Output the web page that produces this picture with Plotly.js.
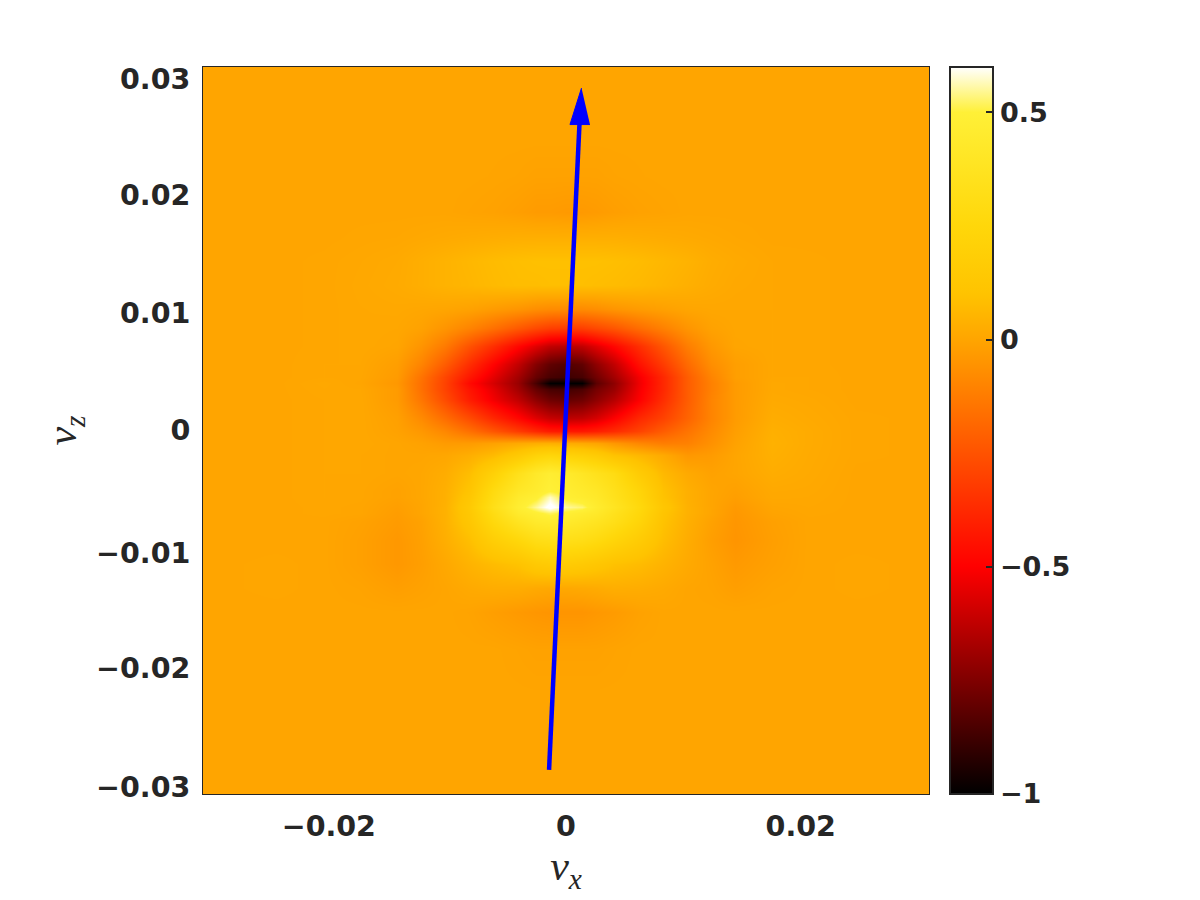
<!DOCTYPE html>
<html>
<head>
<meta charset="utf-8">
<script src="https://cdn.plot.ly/plotly-3.0.1.min.js"></script>
<style>html,body{margin:0;padding:0;background:#fff}#chart{width:1200px;height:900px}</style>
</head>
<body>
<div id="chart"></div>
<script>
const vx = [-0.03,-0.024,-0.02,-0.017,-0.014,-0.012,-0.01,-0.008,-0.006,-0.004,-0.0025,-0.0013,0,0.0013,0.0025,0.004,0.006,0.008,0.01,0.012,0.014,0.017,0.02,0.024,0.03];
const vz = [0.03,0.024,0.021,0.018,0.016,0.014,0.012,0.01,0.0085,0.007,0.0055,0.0044,0.0039,0.0034,0.0025,0.001,0,-0.001,-0.002,-0.0035,-0.005,-0.0055,-0.0063,-0.0068,-0.0075,-0.009,-0.011,-0.013,-0.015,-0.018,-0.022,-0.03];
const density = [
[0,0,0,0,0,0,0,0,0,0,0,0,0,0,0,0,0,0,0,0,0,0,0,0,0],
[0,0,0,0,0,0,0,0,0,0,0,0,0,0,0,0,0,0,0,0,0,0,0,0,0],
[0,0,0,0,0,0,0,0,-.002,-.005,-.01,-.01,-.01,-.01,-.01,-.005,-.002,0,0,0,0,0,0,0,0],
[0,0,0,0,0,0,0,-.005,-.01,-.02,-.03,-.03,-.035,-.035,-.03,-.02,-.01,-.005,0,0,0,0,0,0,0],
[0,0,0,.003,.005,.01,.015,.02,.025,.03,.03,.03,.03,.03,.03,.03,.025,.02,.015,.01,.005,0,0,0,0],
[0,0,.003,.008,.015,.03,.045,.06,.075,.085,.09,.09,.09,.09,.09,.085,.075,.06,.045,.025,.015,.005,.003,0,0],
[0,0,.003,.01,.018,.03,.045,.055,.07,.08,.08,.085,.085,.085,.08,.075,.065,.05,.035,.02,.01,.005,.003,0,0],
[0,0,.003,.008,.01,.005,0,-.01,-.03,-.05,-.07,-.08,-.08,-.08,-.07,-.05,-.03,-.015,0,.005,.005,.005,.003,0,0],
[0,0,.003,.008,.005,-.01,-.05,-.1,-.16,-.23,-.28,-.31,-.32,-.31,-.28,-.24,-.17,-.11,-.05,-.01,.003,.005,.003,0,0],
[0,0,.003,.008,0,-.05,-.13,-.25,-.36,-.48,-.56,-.62,-.64,-.62,-.56,-.48,-.36,-.24,-.12,-.04,0,.005,.003,0,0],
[0,0,.005,.005,-.02,-.1,-.22,-.36,-.49,-.62,-.74,-.81,-.84,-.81,-.72,-.62,-.45,-.32,-.18,-.07,-.02,.005,.003,0,0],
[0,0,.005,.003,-.03,-.15,-.29,-.43,-.55,-.68,-.8,-.86,-.88,-.86,-.78,-.68,-.52,-.38,-.22,-.1,-.02,.005,.005,0,0],
[0,0,.01,0,-.04,-.16,-.3,-.47,-.58,-.7,-.86,-1,-1,-1,-.82,-.72,-.53,-.38,-.22,-.11,-.03,.01,.005,0,0],
[0,0,.008,.005,-.03,-.16,-.3,-.44,-.55,-.68,-.8,-.86,-.87,-.85,-.77,-.7,-.52,-.38,-.22,-.11,-.03,.01,.005,0,0],
[0,0,.005,.008,-.03,-.14,-.27,-.41,-.52,-.62,-.72,-.78,-.8,-.78,-.72,-.64,-.5,-.36,-.22,-.1,-.03,.015,.01,0,0],
[0,0,.005,.008,-.015,-.08,-.17,-.27,-.38,-.48,-.56,-.61,-.63,-.62,-.58,-.5,-.38,-.3,-.2,-.1,-.03,.025,.015,.003,0],
[0,0,.005,.008,-.01,-.04,-.09,-.16,-.24,-.32,-.38,-.42,-.43,-.43,-.41,-.37,-.3,-.22,-.15,-.08,-.02,.035,.02,.003,0],
[0,0,.005,.008,0,-.01,-.03,-.03,-.01,.015,.03,.035,.025,.015,0,-.04,-.09,-.12,-.11,-.06,-.01,.04,.02,.003,0],
[0,0,.005,.005,0,0,.005,.03,.07,.145,.215,.24,.215,.19,.16,.1,.06,.015,-.04,-.03,0,.035,.018,.003,0],
[0,0,.005,.005,0,.005,.025,.08,.2,.34,.425,.47,.44,.395,.35,.295,.16,.065,.015,-.01,0,.025,.015,0,0],
[0,0,.005,.003,-.01,.005,.035,.11,.28,.41,.455,.5,.47,.44,.41,.34,.23,.095,.035,0,-.015,.012,.01,0,0],
[0,0,.005,.003,-.01,.005,.035,.125,.295,.44,.485,.57,.485,.455,.425,.35,.24,.1,.035,0,-.02,.01,.008,0,0],
[0,0,.003,0,-.02,0,.04,.145,.325,.47,.55,.62,.55,.53,.455,.38,.265,.125,.04,0,-.035,0,.005,0,0],
[0,0,.003,0,-.025,0,.04,.135,.295,.44,.485,.52,.485,.455,.425,.35,.25,.11,.04,0,-.04,-.005,.003,0,0],
[0,0,0,-.01,-.03,-.01,.04,.125,.265,.38,.44,.455,.44,.41,.38,.325,.23,.1,.035,-.01,-.045,-.015,0,0,0],
[0,0,0,-.015,-.04,-.015,.03,.085,.18,.25,.31,.325,.325,.31,.28,.23,.16,.08,.025,-.02,-.05,-.02,0,0,0],
[0,.003,0,-.015,-.04,-.02,.01,.045,.075,.1,.145,.16,.16,.145,.125,.095,.075,.045,.015,-.01,-.035,-.015,0,.003,0],
[0,.003,0,-.005,-.02,-.01,0,.015,.025,.025,.015,.01,.01,.015,.02,.03,.025,.015,0,-.005,-.02,-.005,0,.003,0],
[0,0,0,0,0,0,0,-.005,-.02,-.035,-.045,-.05,-.05,-.05,-.04,-.03,-.01,0,0,0,0,0,0,0,0],
[0,0,0,0,0,0,0,0,0,-.005,-.01,-.01,-.01,-.01,-.01,-.005,0,0,0,0,0,0,0,0,0],
[0,0,0,0,0,0,0,0,0,0,0,0,0,0,0,0,0,0,0,0,0,0,0,0,0],
[0,0,0,0,0,0,0,0,0,0,0,0,0,0,0,0,0,0,0,0,0,0,0,0,0]
];
const shaftX = [-0.0014, 0.00112];
const shaftY = [-0.028, 0.02545];
const headX = [0.00128, 0.00033, 0.00198];
const headY = [0.02826, 0.02525, 0.02525];
const xTickPos = [-0.0196, 0, 0.0194];
const xTickText = ['\u22120.02', '0', '0.02'];
const yTickPos = [-0.0294, -0.0196, -0.0101, 0, 0.0097, 0.01944, 0.029];
const yTickText = ['\u22120.03', '\u22120.02', '\u22120.01', '0', '0.01', '0.02', '0.03'];
const barTicks = [-1, -0.5, 0, 0.5];
const ink = '#262626';
const tickFont = {family: '"DejaVu Sans", sans-serif', size: 28.5, color: ink, weight: 700};
const data = [
  {type: 'heatmap', x: vx, y: vz, z: density, zsmooth: 'best', zmin: -1, zmax: 0.6,
   colorscale: [[0,'rgb(0,0,0)'],[0.3125,'rgb(255,0,0)'],[0.625,'rgb(255,165,0)'],[0.6875,'rgb(255,195,0)'],[0.78125,'rgb(255,215,10)'],[0.9375,'rgb(255,240,55)'],[1,'rgb(255,255,255)']],
   hoverinfo: 'skip',
   colorbar: {thicknessmode: 'pixels', thickness: 43, lenmode: 'fraction', len: 1, x: 1.029, xanchor: 'left', xpad: 0, ypad: 0,
     y: 0.5, yanchor: 'middle', outlinecolor: ink, outlinewidth: 2, ticks: 'inside', ticklen: 8, tickcolor: ink, tickwidth: 2,
     tickmode: 'array', tickvals: barTicks, tickprefix: '\u200a', tickfont: {...tickFont, size: 27}}},
  {type: 'scatter', mode: 'lines', x: shaftX, y: shaftY, line: {color: '#0000ff', width: 4.5}, hoverinfo: 'skip', showlegend: false},
  {type: 'scatter', mode: 'lines', x: headX, y: headY, fill: 'toself', fillcolor: '#0000ff', line: {color: '#0000ff', width: 1}, hoverinfo: 'skip', showlegend: false}
];
const layout = {
  width: 1200, height: 900, paper_bgcolor: '#fff', plot_bgcolor: '#fff',
  margin: {l: 203, r: 271, t: 67, b: 106, pad: 0},
  xaxis: {range: [-0.03, 0.03], tickmode: 'array', tickvals: xTickPos, ticktext: xTickText, ticks: '', tickfont: tickFont, ticklabelstandoff: 7,
    showgrid: false, zeroline: false, mirror: true, showline: true, linecolor: ink, linewidth: 1,
    title: {text: '<i>v<sub>x</sub></i>', font: {family: '"Liberation Serif", serif', size: 42, color: ink}, standoff: 4}},
  yaxis: {range: [-0.03, 0.03], tickmode: 'array', tickvals: yTickPos, ticktext: yTickText, ticks: '', tickfont: tickFont, ticklabelstandoff: 6,
    showgrid: false, zeroline: false, mirror: true, showline: true, linecolor: ink, linewidth: 1,
    title: {text: '<i>v<sub>z</sub></i>', font: {family: '"Liberation Serif", serif', size: 42, color: ink}, standoff: 6}}
};
Plotly.newPlot('chart', data, layout, {displayModeBar: false, staticPlot: true});
</script>
</body>
</html>
